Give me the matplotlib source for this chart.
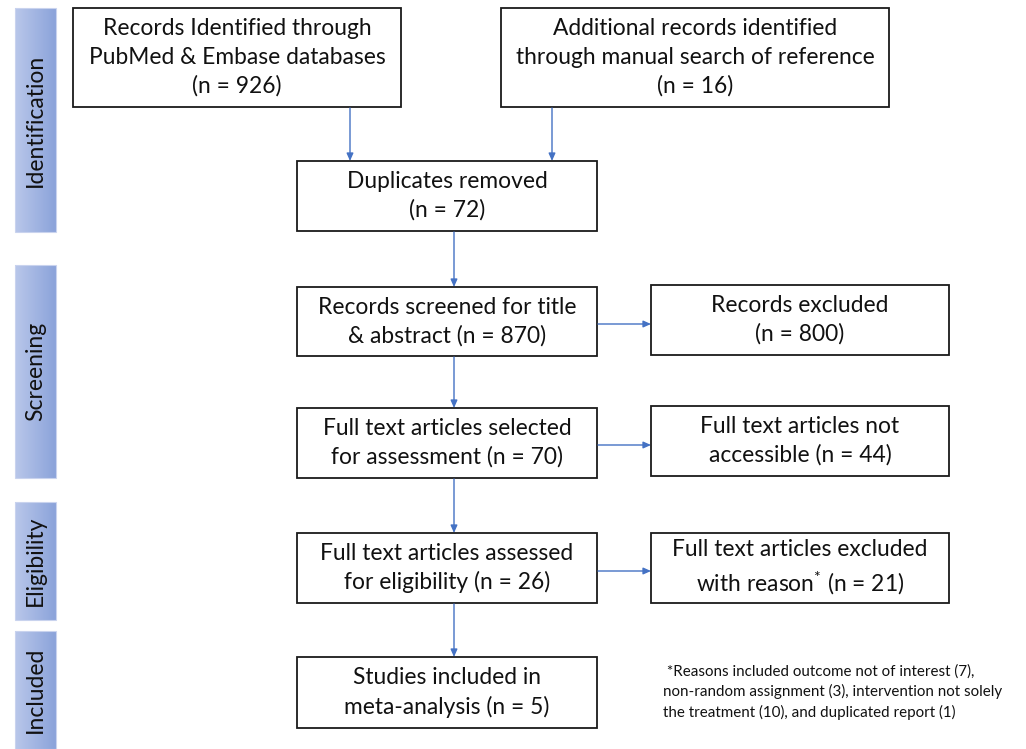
import matplotlib
matplotlib.use("Agg")
import matplotlib.pyplot as plt
import numpy as np
from matplotlib.patches import Rectangle
from matplotlib.colors import LinearSegmentedColormap

plt.rcParams['font.family'] = ['Lato', 'DejaVu Sans']
plt.rcParams['mathtext.fontset'] = 'custom'
plt.rcParams['mathtext.rm'] = 'Lato'
plt.rcParams['mathtext.it'] = 'Lato'

# ---- data ----
stage_labels = ["Identification", "Screening", "Eligibility", "Included"]
stage_spans = [(8, 232), (265, 478), (502, 620), (631, 749)]

box_texts = [
    "Records Identified through\nPubMed & Embase databases\n(n = 926)",
    "Additional records identified\nthrough manual search of reference\n(n = 16)",
    "Duplicates removed\n(n = 72)",
    "Records screened for title\n& abstract (n = 870)",
    "Records excluded\n(n = 800)",
    "Full text articles selected\nfor assessment (n = 70)",
    "Full text articles not\naccessible (n = 44)",
    "Full text articles assessed\nfor eligibility (n = 26)",
    "Full text articles excluded\n$\\mathregular{with\\ reason^{*}\\ (n}$ = 21)",
    "Studies included in\nmeta-analysis (n = 5)",
]
# box geometry (x0, y0, x1, y1) in pixel coords
box_geom = [
    (73, 8, 401, 107),
    (501, 8, 889, 107),
    (297, 161, 597, 231),
    (297, 287, 597, 356),
    (651, 285, 949, 355),
    (297, 408, 597, 478),
    (651, 406, 949, 476),
    (297, 533, 597, 603),
    (651, 533, 949, 603),
    (297, 657, 597, 728),
]
# arrows: (x0, y0, x1, y1)
arrows = [
    (350, 108, 350, 161),
    (552, 108, 552, 161),
    (454, 232, 454, 287),
    (454, 357, 454, 408),
    (454, 479, 454, 533),
    (454, 604, 454, 657),
    (598, 324, 651, 324),
    (598, 445, 651, 445),
    (598, 571, 651, 571),
]
footnote = (" *Reasons included outcome not of interest (7),\n"
            "non-random assignment (3), intervention not solely\n"
            "the treatment (10), and duplicated report (1)")

W, H = 1026, 749
fig = plt.figure(figsize=(W / 100, H / 100), dpi=100)
ax = fig.add_axes([0, 0, 1, 1])
ax.set_xlim(0, W)
ax.set_ylim(H, 0)
ax.axis('off')

# stage side bars with gradient
grad = np.linspace(0, 1, 64).reshape(1, -1)
cmap = LinearSegmentedColormap.from_list('g', ['#b9c7ea', '#8ba3da'])
for lab, (y0, y1) in zip(stage_labels, stage_spans):
    ax.imshow(grad, extent=(15, 56, y1, y0), cmap=cmap, aspect='auto', zorder=1)
    ax.add_patch(Rectangle((15, y0), 41, y1 - y0, fill=False, edgecolor='#c9d3ee', lw=0.8, zorder=2))
    ax.text(35.5, (y0 + y1) / 2, lab, rotation=90, ha='center', va='center',
            fontsize=16.5, color='#111111', zorder=3)

for txt, (x0, y0, x1, y1) in zip(box_texts, box_geom):
    ax.add_patch(Rectangle((x0, y0), x1 - x0, y1 - y0, facecolor='white',
                           edgecolor='#1a1a1a', lw=1.3, zorder=2))
    ax.text((x0 + x1) / 2, (y0 + y1) / 2, txt, ha='center', va='center',
            fontsize=16.4, color='#111111', linespacing=1.42, zorder=3)

for (x0, y0, x1, y1) in arrows:
    ax.annotate('', xy=(x1, y1), xytext=(x0, y0),
                arrowprops=dict(arrowstyle='-|>,head_length=0.45,head_width=0.2',
                                color='#4472c4', lw=1.0, shrinkA=0, shrinkB=0),
                zorder=4)

ax.text(663, 692, footnote, ha='left', va='center', fontsize=10.9,
        color='#111111', linespacing=1.45)

fig.savefig('out.png', dpi=100)
